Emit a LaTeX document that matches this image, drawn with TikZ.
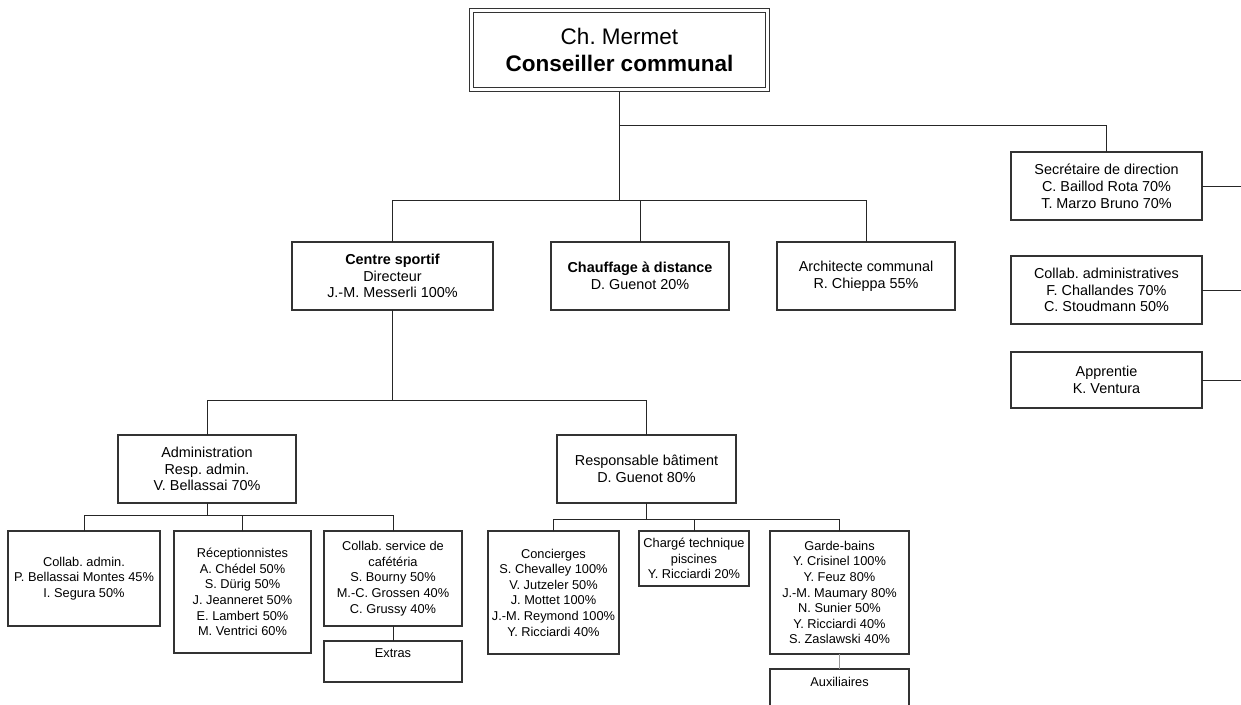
\documentclass[tikz,border=0pt]{standalone}
\usepackage{fontspec}
\setmainfont{Liberation Sans}
\usepackage{tikz}
\usetikzlibrary{calc,positioning}
\frenchspacing
\tikzset{%
	chief/.style = {draw=black!80, line width=1.2pt, double=white, double distance=2.2pt, outer sep=2.3pt, inner sep=0pt, align=center, font=\fontsize{22.5}{27}\selectfont},
	post/.style  = {draw=black!80, line width=1.3pt, fill=white, inner sep=0pt, outer sep=0pt, align=center, font=\fontsize{14.4}{16.8}\selectfont},
	staff/.style = {post, font=\fontsize{12.8}{15.6}\selectfont},
	link/.style  = {draw=black!85, line width=1pt},
}
\begin{document}
\begin{tikzpicture}[x=1pt,y=-1pt]
	\useasboundingbox (0,0) rectangle (1241,704);
	
	\node[chief, minimum width=296pt, minimum height=79pt] (top) at (619.5,50) {Ch. Mermet\\\textbf{Conseiller communal}};
	
	\node[post, minimum width=201pt, minimum height=68pt] (cs) at (392.5,276) {\textbf{Centre sportif}\\Directeur\\J.-M. Messerli 100\%};
	\node[post, minimum width=178pt, minimum height=68pt] (chauf) at (640,276) {\textbf{Chauffage à distance}\\D. Guenot 20\%};
	\node[post, minimum width=178pt, minimum height=68pt] (arch) at (866,276) {Architecte communal\\R. Chieppa 55\%};
	
	\node[post, minimum width=191pt, minimum height=68pt] (sec) at (1106.5,186) {Secrétaire de direction\\C. Baillod Rota 70\%\\T. Marzo Bruno 70\%};
	\node[post, minimum width=191pt, minimum height=68pt] (collab) at (1106.5,290) {Collab. administratives\\F. Challandes 70\%\\C. Stoudmann 50\%};
	\node[post, minimum width=191pt, minimum height=56pt] (appr) at (1106.5,380) {Apprentie\\K. Ventura};
	
	\node[post, minimum width=178pt, minimum height=68pt] (admin) at (207,469) {Administration\\Resp. admin.\\V. Bellassai 70\%};
	\node[post, minimum width=179pt, minimum height=68pt] (resp) at (646.5,469) {Responsable bâtiment\\D. Guenot 80\%};
	
	\node[staff, minimum width=152pt, minimum height=95pt] (cadm) at (84,578.5) {Collab. admin.\\P. Bellassai Montes 45\%\\I. Segura 50\%};
	\node[staff, minimum width=137pt, minimum height=122pt] (recep) at (242.5,592) {Réceptionnistes\\A. Chédel 50\%\\S. Dürig 50\%\\J. Jeanneret 50\%\\E. Lambert 50\%\\M. Ventrici 60\%};
	\node[staff, minimum width=138pt, minimum height=95pt] (cafe) at (393,578.5) {Collab. service de\\cafétéria\\S. Bourny 50\%\\M.-C. Grossen 40\%\\C. Grussy 40\%};
	\node[staff, minimum width=138pt, text height=16pt, text depth=25pt, anchor=north] (extras) at (393,641) {Extras};
	
	\node[staff, minimum width=131pt, minimum height=123pt] (conc) at (553.5,592.5) {Concierges\\S. Chevalley 100\%\\V. Jutzeler 50\%\\J. Mottet 100\%\\J.-M. Reymond 100\%\\Y. Ricciardi 40\%};
	\node[staff, minimum width=110pt, minimum height=55pt] (charge) at (694,558.5) {Chargé technique\\piscines\\Y. Ricciardi 20\%};
	\node[staff, minimum width=139pt, minimum height=123pt] (garde) at (839.5,592.5) {Garde-bains\\Y. Crisinel 100\%\\Y. Feuz 80\%\\J.-M. Maumary 80\%\\N. Sunier 50\%\\Y. Ricciardi 40\%\\S. Zaslawski 40\%};
	\node[staff, minimum width=139pt, text height=17pt, text depth=40pt, anchor=north] (aux) at (839.5,669) {Auxiliaires};
	
	\coordinate (lvA) at (0,125);
	\coordinate (lvB) at (0,200);
	\coordinate (lvC) at (0,400);
	\coordinate (lvD) at (0,515);
	\coordinate (lvE) at (0,519);
	\coordinate (rim) at (1241,0);
	
	\draw[link] (top.south) -- (top.south |- lvB);
	\draw[link] (top.south |- lvA) -| (sec.north);
	\draw[link] (cs.north) |- (arch.north |- lvB) -- (arch.north);
	\draw[link] (chauf.north) -- (chauf.north |- lvB);
	
	\draw[link] (sec.east) -- (sec.east -| rim);
	\draw[link] (collab.east) -- (collab.east -| rim);
	\draw[link] (appr.east) -- (appr.east -| rim);
	
	\draw[link] (cs.south) -- (cs.south |- lvC);
	\draw[link] (admin.north) |- (resp.north |- lvC) -- (resp.north);
	
	\draw[link] (admin.south) -- (admin.south |- lvD);
	\draw[link] (cadm.north) |- (cafe.north |- lvD) -- (cafe.north);
	\draw[link] (recep.north) -- (recep.north |- lvD);
	\draw[link] (cafe.south) -- (extras.north);
	
	\draw[link] (resp.south) -- (resp.south |- lvE);
	\draw[link] (conc.north) |- (garde.north |- lvE) -- (garde.north);
	\draw[link] (charge.north) -- (charge.north |- lvE);
	\draw[link, draw=black!40] (garde.south) -- (aux.north);
\end{tikzpicture}
\end{document}
